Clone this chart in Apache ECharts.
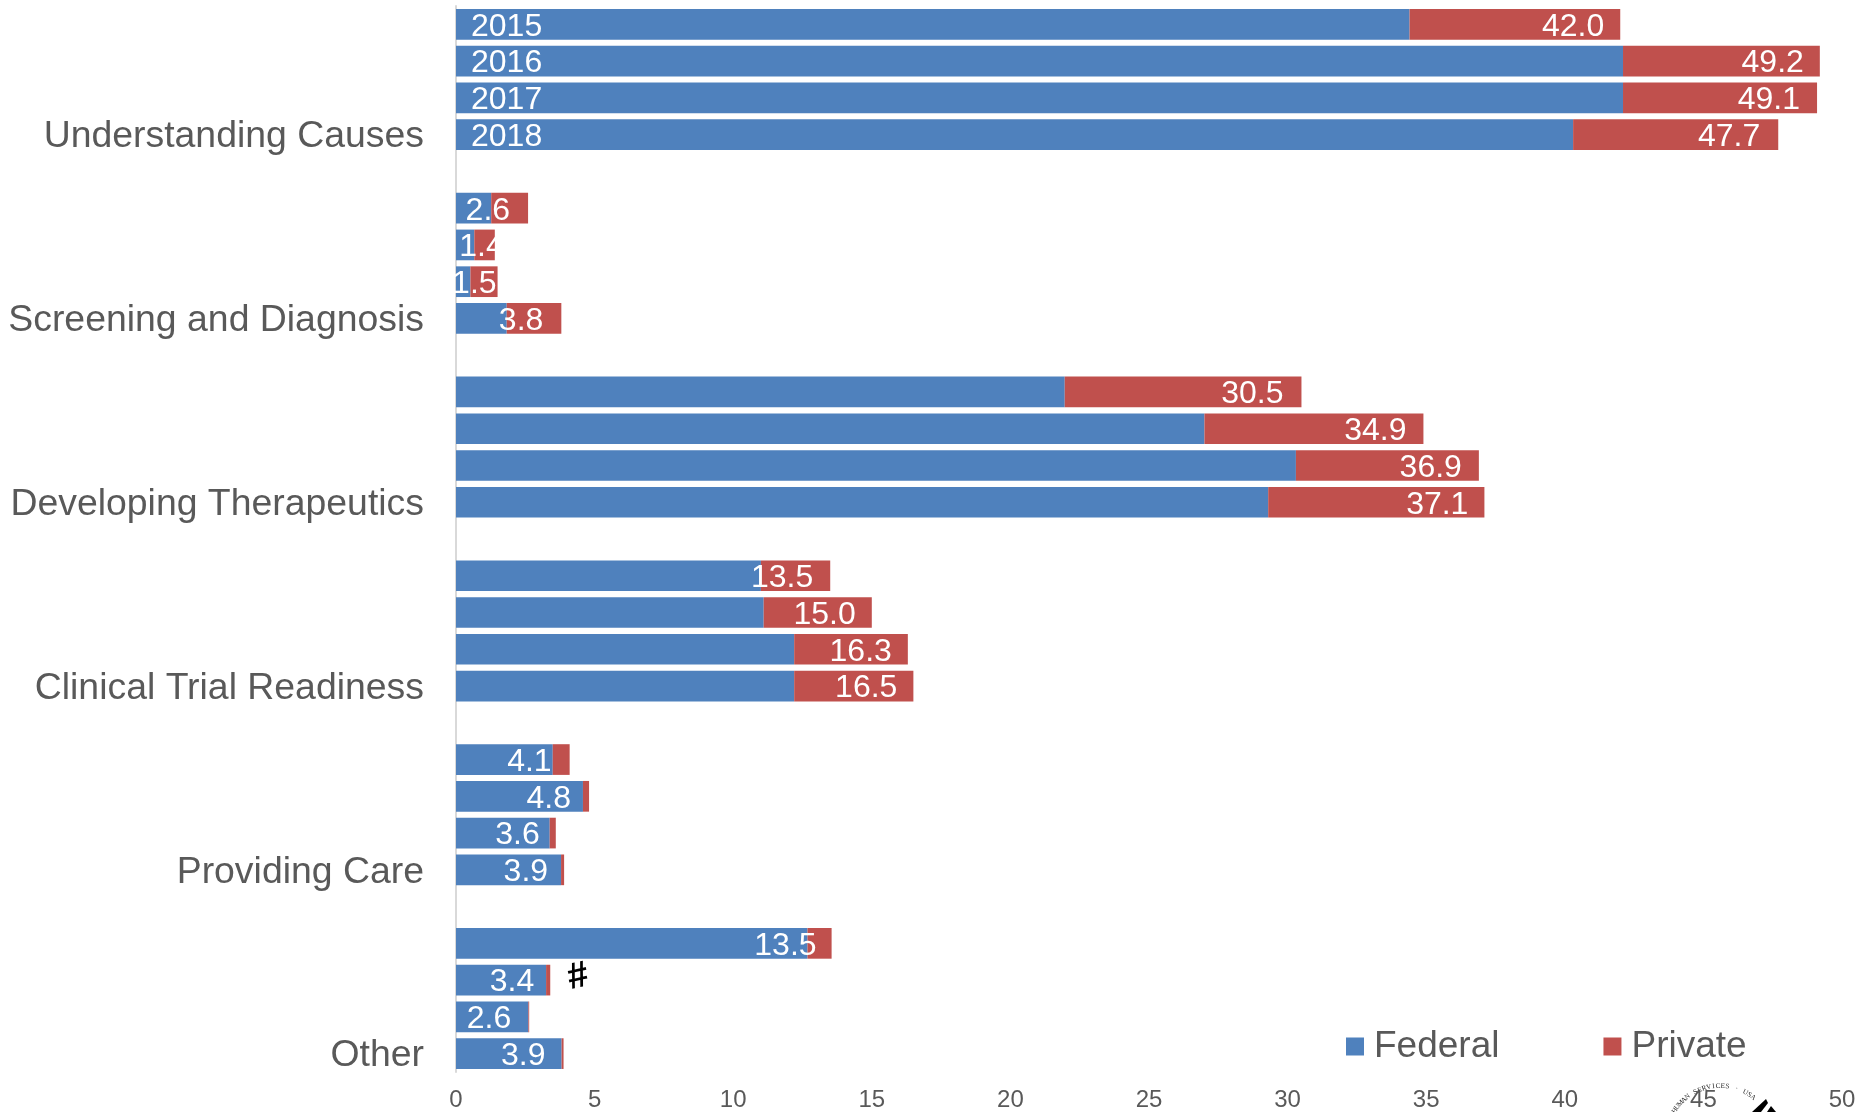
<!DOCTYPE html>
<html><head><meta charset="utf-8">
<style>html,body{margin:0;padding:0;background:#fff}#c{width:1860px;height:1112px}</style>
<script src="https://cdn.jsdelivr.net/npm/echarts@6/dist/echarts.min.js"></script>
</head><body><div id="c"></div>
<script>
const groups = ['Understanding Causes','Screening and Diagnosis','Developing Therapeutics','Clinical Trial Readiness','Providing Care','Other'];
const years = ['2015','2016','2017','2018'];
const federal = [[34.4,42.1,42.1,40.3],[1.27,0.66,0.52,1.83],[21.96,27.0,30.3,29.3],[11.0,11.1,12.2,12.2],[3.49,4.58,3.38,3.79],[12.68,3.25,2.61,3.81]];
const privateF = [[7.6,7.1,7.0,7.4],[1.33,0.74,0.98,1.97],[8.54,7.9,6.6,7.8],[2.5,3.9,4.1,4.3],[0.61,0.22,0.22,0.11],[0.87,0.15,0.03,0.07]];
const xTicks = [0,5,10,15,20,25,30,35,40,45,50];
const sealText = 'HUMAN SERVICES · USA';
// distance of each total label from the end of its bar, px
const labelInset = [[16,16,17,18],[18,-9,1,18],[18,17,17,16],[17,16,16,16],[18,18,16,16],[15,16,18,18]];

const rows=[],fed=[],pri=[];
groups.forEach((g,i)=>{
  years.forEach((y,j)=>{
    rows.push(g+'|'+y);
    fed.push({value:federal[i][j],label:{show:i===0,formatter:y}});
    const total=(federal[i][j]+privateF[i][j]).toFixed(1);
    pri.push({value:privateF[i][j],label:{show:true,position:'insideRight',distance:labelInset[i][j],formatter:total}});
  });
  if(i<groups.length-1){rows.push('gap'+i);fed.push(null);pri.push(null);}
});
const font='"Liberation Sans",Arial,sans-serif';
const grey='#595959';
const sealCx=1720,sealCy=1140,sealR=54,startDeg=-57,stepDeg=5;
const sealGlyphs=[...sealText].map((ch,k)=>{
  const a=(startDeg+k*stepDeg)*Math.PI/180;
  return {type:'text',x:sealCx+sealR*Math.sin(a),y:sealCy-sealR*Math.cos(a),rotation:-a,z:5,
    style:{text:ch,fill:'#222',font:'7px "Liberation Serif",serif',textAlign:'center',textVerticalAlign:'middle'}};
});
const chart=echarts.init(document.getElementById('c'));
chart.setOption({
  animation:false,
  grid:{left:456,top:6,width:1386,height:1066.4,containLabel:false},
  legend:{left:1341,top:1023,icon:'rect',itemWidth:18,itemHeight:18,itemGap:104,
    textStyle:{color:grey,fontSize:37,fontFamily:font,padding:[0,0,0,5]},data:['Federal','Private']},
  xAxis:{type:'value',min:0,max:50,interval:5,position:'bottom',z:10,
    axisLine:{show:false},axisTick:{show:false},splitLine:{show:false},
    axisLabel:{color:grey,fontSize:24,fontFamily:font,margin:16}},
  yAxis:{type:'category',inverse:true,data:rows,
    axisLine:{show:true,lineStyle:{color:'#d9d9d9',width:2}},axisTick:{show:false},splitLine:{show:false},
    axisLabel:{interval:0,margin:32,
      rich:{a:{color:grey,fontSize:37.4,fontFamily:font,padding:[5,0,0,0]}},
      formatter:v=>v.endsWith('|2018')?'{a|'+v.split('|')[0]+'}':''}},
  series:[
    {name:'Federal',type:'bar',stack:'t',barWidth:'83.5%',data:fed,itemStyle:{color:'#4f81bd'},
     label:{position:'insideLeft',distance:15,offset:[0,2.5],color:'#fff',fontSize:32,fontFamily:font}},
    {name:'Private',type:'bar',stack:'t',data:pri,itemStyle:{color:'#c0504d'},
     label:{offset:[0,2.5],color:'#fff',fontSize:32,fontFamily:font}}
  ],
  graphic:[
    {type:'text',x:578,y:977,rotation:0.22,z:5,
      style:{text:'#',fill:'#000',font:'bold 37px "Liberation Sans",sans-serif',textAlign:'center',textVerticalAlign:'middle'}},
    ...sealGlyphs,
    {type:'polygon',z:4,shape:{points:[[1766,1099],[1768,1103],[1761,1112],[1752,1112]]},style:{fill:'#000'}},
    {type:'polygon',z:4,shape:{points:[[1771,1106],[1776,1112],[1767,1112]]},style:{fill:'#000'}}
  ]
});
</script></body></html>
